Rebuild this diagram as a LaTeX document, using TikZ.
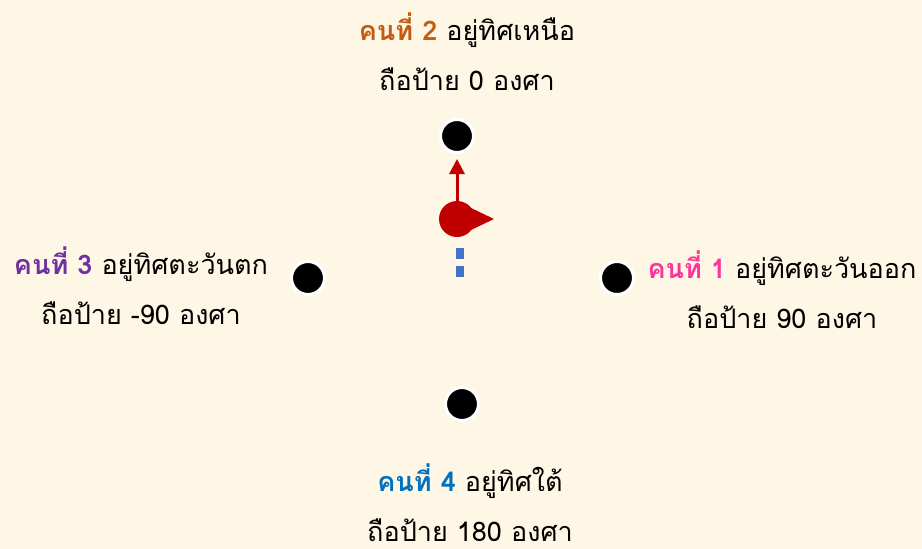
\documentclass[tikz,border=0pt]{standalone}
\usepackage{fontspec}
\newfontfamily\thaifont[Script=Thai]{Loma}
\usetikzlibrary{arrows.meta,positioning,calc}
\definecolor{colorBg}{RGB}{255,247,229}
\definecolor{colorRobot}{RGB}{192,0,0}
\definecolor{colorPath}{RGB}{68,114,196}
\definecolor{colorOne}{RGB}{255,51,153}
\definecolor{colorTwo}{RGB}{197,90,17}
\definecolor{colorThree}{RGB}{112,48,160}
\definecolor{colorFour}{RGB}{0,112,192}
\tikzset{
  person/.style={circle,fill=black,draw=white,line width=3pt,minimum size=33pt,inner sep=0pt},
  txt/.style={align=center,inner sep=0pt,font=\thaifont\fontsize{27}{50}\selectfont},
}

\begin{document}
\begin{tikzpicture}[x=1pt,y=-1pt]
  \useasboundingbox[fill=colorBg] (0,0) rectangle (922,549);
  % people
  \node[person] (p2) at (457,136) {};
  \node[person] (p3) at (308,278) {};
  \node[person] (p1) at (617,278) {};
  \node[person] (p4) at (462,404) {};
  % texts
  \node[txt] (t2) at (467,52) {\textcolor{colorTwo}{\bfseries คนที่ 2} อยู่ทิศเหนือ\\ถือป้าย 0 องศา};
  \node[txt] (t3) at (141,286) {\textcolor{colorThree}{\bfseries คนที่ 3} อยู่ทิศตะวันตก\\ถือป้าย -90 องศา};
  \node[txt] (t1) at (782,290) {\textcolor{colorOne}{\bfseries คนที่ 1} อยู่ทิศตะวันออก\\ถือป้าย 90 องศา};
  \node[txt] (t4) at (470,503) {\textcolor{colorFour}{\bfseries คนที่ 4} อยู่ทิศใต้\\ถือป้าย 180 องศา};
  % robot
  \node[circle,fill=colorRobot,minimum size=36pt,inner sep=0pt] (robot) at (457,219) {};
  \fill[colorRobot] ($(robot.center)+(12,-12)$) -- (494,219) -- ($(robot.center)+(12,12)$) -- cycle;
  \draw[colorRobot,line width=3pt,-{Triangle[width=15pt,length=15pt]}] (robot.north) -- ($(p2.south)+(0,5)$);
  \coordinate (trail) at (460,278);
  \draw[colorPath,line width=8pt,dash pattern=on 11pt off 7pt] ($(robot.south)+(3,11)$) -- (trail);
\end{tikzpicture}
\end{document}
